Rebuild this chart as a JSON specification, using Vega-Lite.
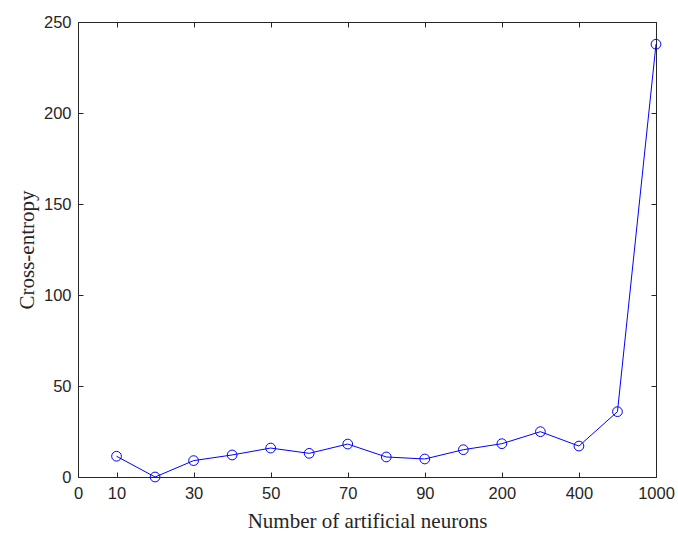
{
  "$schema": "https://vega.github.io/schema/vega-lite/v6.json",
  "width": 578,
  "height": 455,
  "autosize": "none",
  "padding": {"left": 78, "top": 22, "right": 22, "bottom": 58},
  "background": "white",
  "config": {
    "view": {"stroke": "#262626", "strokeWidth": 1},
    "axis": {
      "domain": false,
      "grid": false,
      "tickColor": "#262626",
      "tickSize": -5,
      "labelColor": "#262626",
      "labelFont": "Liberation Sans",
      "labelFontSize": 16.5,
      "titleFont": "Liberation Serif",
      "titleFontSize": 21,
      "titleFontWeight": "normal",
      "titleColor": "#262626"
    }
  },
  "data": {
    "values": [
      {"neurons": "10", "ce": 11.4},
      {"neurons": "20", "ce": 0.0},
      {"neurons": "30", "ce": 9.0},
      {"neurons": "40", "ce": 12.1},
      {"neurons": "50", "ce": 15.9},
      {"neurons": "60", "ce": 13.0},
      {"neurons": "70", "ce": 18.1},
      {"neurons": "80", "ce": 11.0},
      {"neurons": "90", "ce": 9.9},
      {"neurons": "100", "ce": 15.0},
      {"neurons": "200", "ce": 18.3},
      {"neurons": "300", "ce": 24.9},
      {"neurons": "400", "ce": 17.0},
      {"neurons": "500", "ce": 35.9},
      {"neurons": "1000", "ce": 237.8}
    ]
  },
  "layer": [
    {
      "mark": {"type": "line", "color": "#0000FF", "strokeWidth": 1},
      "encoding": {
        "x": {
          "field": "neurons", "type": "ordinal", "sort": null,
          "scale": {"type": "point", "domain": ["0","10","20","30","40","50","60","70","80","90","100","200","300","400","500","1000"], "padding": 0},
          "axis": {"orient": "bottom", "values": ["0","10","30","50","70","90","200","400","1000"], "labelAngle": 0, "labelPadding": 13, "title": "Number of artificial neurons", "titlePadding": 9}
        },
        "y": {
          "field": "ce", "type": "quantitative",
          "scale": {"domain": [0, 250], "nice": false, "zero": true},
          "axis": {"orient": "left", "values": [0, 50, 100, 150, 200, 250], "labelPadding": 12, "title": "Cross-entropy", "titlePadding": 6}
        }
      }
    },
    {
      "mark": {"type": "point", "shape": "circle", "filled": false, "color": "#0000FF", "strokeWidth": 1, "size": 95, "opacity": 1},
      "encoding": {
        "x": {
          "field": "neurons", "type": "ordinal", "sort": null,
          "axis": {"orient": "top", "values": ["0","10","30","50","70","90","200","400","1000"], "labels": false, "title": null}
        },
        "y": {
          "field": "ce", "type": "quantitative",
          "axis": {"orient": "right", "values": [0, 50, 100, 150, 200, 250], "labels": false, "title": null}
        }
      }
    }
  ],
  "resolve": {"axis": {"x": "independent", "y": "independent"}}
}
